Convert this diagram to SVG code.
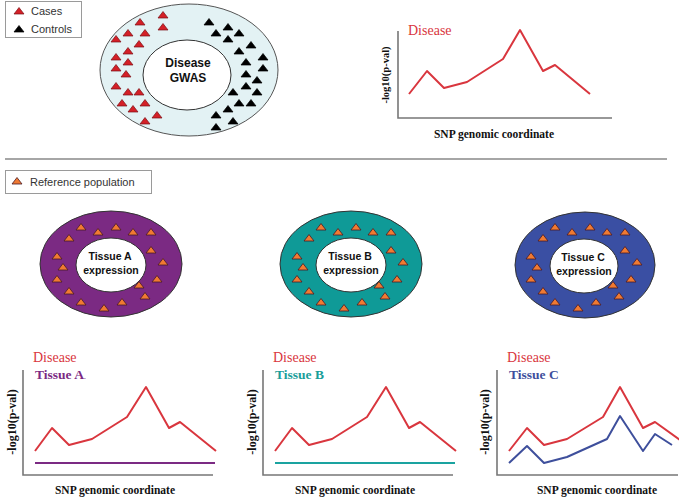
<svg xmlns="http://www.w3.org/2000/svg" xmlns:xlink="http://www.w3.org/1999/xlink" width="679" height="502" viewBox="0 0 679 502">
<style>
.legend{fill:#fff;stroke:#9a9a9a;stroke-width:1}
.sans{font-family:"Liberation Sans",Arial,sans-serif;font-size:11px;fill:#333}
.lbl{font-family:"Liberation Sans",Arial,sans-serif;font-weight:bold;fill:#111;text-anchor:middle}
.serif{font-family:"Liberation Serif","Times New Roman",serif}
.axl{font-family:"Liberation Serif","Times New Roman",serif;font-weight:bold;fill:#111;text-anchor:middle}
.axis{fill:none;stroke:#777;stroke-width:1.6}
.red{fill:none;stroke:#d9363e;stroke-width:2;stroke-linejoin:round}
.inner{fill:#fff;stroke:#333;stroke-width:1}
</style>
<defs>
<path id="trR" d="M-5,3 L0,-3.5 L5,3 Z" fill="#d42027" stroke="#7a1015" stroke-width="0.7"/>
<path id="trK" d="M-5,3 L0,-3.5 L5,3 Z" fill="#000" stroke="#000" stroke-width="0.7"/>
<path id="trO" d="M-5,3 L0,-3.5 L5,3 Z" fill="#f07a32" stroke="#4a1a24" stroke-width="0.8"/>
<g id="pop">
<use xlink:href="#trO" x="81" y="227"/><use xlink:href="#trO" x="116" y="227"/>
<use xlink:href="#trO" x="98" y="232"/><use xlink:href="#trO" x="133" y="232"/>
<use xlink:href="#trO" x="151" y="232"/><use xlink:href="#trO" x="69" y="238"/>
<use xlink:href="#trO" x="151" y="250"/><use xlink:href="#trO" x="57" y="256"/>
<use xlink:href="#trO" x="163" y="262"/><use xlink:href="#trO" x="63" y="267"/>
<use xlink:href="#trO" x="57" y="279"/><use xlink:href="#trO" x="157" y="279"/>
<use xlink:href="#trO" x="139" y="285"/><use xlink:href="#trO" x="69" y="291"/>
<use xlink:href="#trO" x="145" y="296"/><use xlink:href="#trO" x="81" y="302"/>
<use xlink:href="#trO" x="122" y="302"/><use xlink:href="#trO" x="104" y="308"/>
</g>
</defs>
<rect width="679" height="502" fill="#fff"/>

<g id="legend-gwas">
<rect class="legend" x="5.5" y="1.5" width="76" height="36"/>
<use xlink:href="#trR" x="19" y="11"/>
<text class="sans" x="31" y="15">Cases</text>
<use xlink:href="#trK" x="19" y="29"/>
<text class="sans" x="31" y="33">Controls</text>
</g>

<g id="gwas">
<ellipse cx="189" cy="70" rx="89" ry="66" fill="#e3f2f4" stroke="#555" stroke-width="1"/>
<ellipse class="inner" cx="187" cy="75" rx="44" ry="35"/>
<text class="lbl" x="188" y="67" font-size="12">Disease</text>
<text class="lbl" x="188" y="82" font-size="12">GWAS</text>
<use xlink:href="#trR" x="163" y="15"/><use xlink:href="#trR" x="140" y="22"/>
<use xlink:href="#trR" x="163" y="27"/><use xlink:href="#trR" x="128" y="33"/>
<use xlink:href="#trR" x="145" y="33"/><use xlink:href="#trR" x="116" y="39"/>
<use xlink:href="#trR" x="139" y="44"/><use xlink:href="#trR" x="128" y="51"/>
<use xlink:href="#trR" x="116" y="57"/><use xlink:href="#trR" x="128" y="62"/>
<use xlink:href="#trR" x="116" y="68"/><use xlink:href="#trR" x="126" y="74"/>
<use xlink:href="#trR" x="116" y="86"/><use xlink:href="#trR" x="128" y="92"/>
<use xlink:href="#trR" x="139" y="92"/><use xlink:href="#trR" x="122" y="103"/>
<use xlink:href="#trR" x="145" y="103"/><use xlink:href="#trR" x="133" y="109"/>
<use xlink:href="#trR" x="157" y="115"/><use xlink:href="#trR" x="145" y="121"/>
<use xlink:href="#trK" x="209" y="22"/><use xlink:href="#trK" x="228" y="27"/>
<use xlink:href="#trK" x="216" y="33"/><use xlink:href="#trK" x="239" y="33"/>
<use xlink:href="#trK" x="228" y="39"/><use xlink:href="#trK" x="251" y="45"/>
<use xlink:href="#trK" x="239" y="51"/><use xlink:href="#trK" x="263" y="57"/>
<use xlink:href="#trK" x="246" y="62"/><use xlink:href="#trK" x="263" y="68"/>
<use xlink:href="#trK" x="246" y="74"/><use xlink:href="#trK" x="257" y="80"/>
<use xlink:href="#trK" x="246" y="86"/><use xlink:href="#trK" x="233" y="92"/>
<use xlink:href="#trK" x="257" y="92"/><use xlink:href="#trK" x="239" y="103"/>
<use xlink:href="#trK" x="251" y="103"/><use xlink:href="#trK" x="228" y="109"/>
<use xlink:href="#trK" x="216" y="115"/><use xlink:href="#trK" x="233" y="121"/>
<use xlink:href="#trK" x="216" y="127"/>
</g>

<g id="chart-gwas">
<path class="axis" d="M398,31 V118 H612"/>
<text class="serif" x="408" y="35" font-size="14" fill="#d9363e">Disease</text>
<polyline class="red" points="409,94 427,71 444,88 467,82 503,59 520,30 543,71 555,65 590,94"/>
<text class="axl" font-size="10.5" transform="translate(389,75) rotate(-90)">-log10(p-val)</text>
<text class="axl" x="494" y="138" font-size="11.5">SNP genomic coordinate</text>
</g>

<g id="connectors">
<line x1="5" y1="159" x2="667" y2="159" stroke="#888" stroke-width="1.5"/>
</g>

<g id="legend-ref">
<rect class="legend" x="5.5" y="170.5" width="146" height="23"/>
<use xlink:href="#trO" x="17" y="181"/>
<text class="sans" x="30" y="186">Reference population</text>
</g>

<g id="tissueA">
<ellipse cx="111" cy="264" rx="71" ry="53" fill="#7b2a83" stroke="#333" stroke-width="1"/>
<ellipse class="inner" cx="111" cy="265" rx="35" ry="27"/>
<text class="lbl" x="110" y="260" font-size="10.5">Tissue A</text>
<text class="lbl" x="111" y="274" font-size="10.5">expression</text>
<use xlink:href="#pop"/>
</g>

<g id="tissueB">
<ellipse cx="351" cy="264" rx="71" ry="53" fill="#0f9a97" stroke="#333" stroke-width="1"/>
<ellipse class="inner" cx="351" cy="265" rx="35" ry="27"/>
<text class="lbl" x="350" y="260" font-size="10.5">Tissue B</text>
<text class="lbl" x="351" y="274" font-size="10.5">expression</text>
<use xlink:href="#pop" x="240"/>
</g>

<g id="tissueC">
<ellipse cx="585" cy="265" rx="70" ry="53" fill="#3a4fa3" stroke="#333" stroke-width="1"/>
<ellipse class="inner" cx="584" cy="266" rx="34" ry="27"/>
<text class="lbl" x="583" y="261" font-size="10.5">Tissue C</text>
<text class="lbl" x="584" y="275" font-size="10.5">expression</text>
<use xlink:href="#pop" x="474"/>
</g>

<g id="chartA">
<path class="axis" d="M23,370 V475 H213"/>
<text class="serif" x="33" y="362" font-size="14" fill="#d9363e">Disease</text>
<text class="serif" x="35" y="379" font-size="13.5" font-weight="bold" fill="#7b2a83">Tissue A<tspan font-size="7">.</tspan></text>
<polyline class="red" points="35,451 52,428 69,445 92,439 127,417 146,387 169,428 180,422 216,451"/>
<line x1="35" y1="463" x2="215" y2="463" stroke="#7b2a83" stroke-width="2"/>
<text class="axl" font-size="12" transform="translate(16,422) rotate(-90)">-log10(p-val)</text>
<text class="axl" x="115" y="494" font-size="11.5">SNP genomic coordinate</text>
</g>

<g id="chartB">
<path class="axis" d="M263,370 V475 H453"/>
<text class="serif" x="273" y="362" font-size="14" fill="#d9363e">Disease</text>
<text class="serif" x="275" y="379" font-size="13.5" font-weight="bold" fill="#1a9e9a">Tissue B</text>
<polyline class="red" points="275,451 292,428 309,445 332,439 367,417 386,387 409,428 420,422 456,451"/>
<line x1="275" y1="463" x2="455" y2="463" stroke="#1aa3a0" stroke-width="2"/>
<text class="axl" font-size="12" transform="translate(256,422) rotate(-90)">-log10(p-val)</text>
<text class="axl" x="355" y="494" font-size="11.5">SNP genomic coordinate</text>
</g>

<g id="chartC">
<path class="axis" d="M497,370 V475 H678"/>
<text class="serif" x="507" y="362" font-size="14" fill="#d9363e">Disease</text>
<text class="serif" x="509" y="379" font-size="13.5" font-weight="bold" fill="#3e4f9c">Tissue C</text>
<polyline class="red" points="509,451 527,428 544,445 567,439 603,417 620,387 643,428 655,422 680,440"/>
<polyline fill="none" stroke="#3e4f9c" stroke-width="2" stroke-linejoin="round" points="509,463 527,446 544,463 567,457 607,439 620,416 643,451 655,434 672,445"/>
<text class="axl" font-size="12" transform="translate(489,422) rotate(-90)">-log10(p-val)</text>
<text class="axl" x="597" y="494" font-size="11.5">SNP genomic coordinate</text>
</g>
</svg>
